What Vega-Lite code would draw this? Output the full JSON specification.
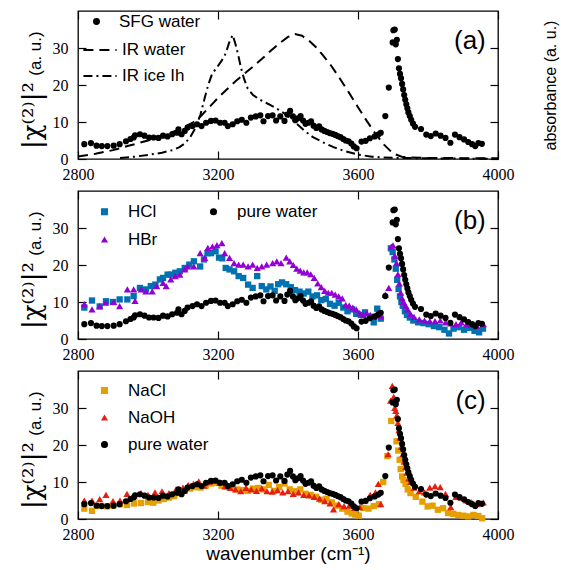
{
"$schema": "https://vega.github.io/schema/vega-lite/v6.json",
"background": "white",
"padding": {"left": 18, "top": 9, "right": 2, "bottom": 5},
"spacing": 32,
"bounds": "flush",
"resolve": {"scale": {"color": "independent", "shape": "independent", "strokeDash": "independent"}},
"config": {
  "view": {"stroke": "black", "strokeWidth": 1.3},
  "axis": {"grid": false, "domain": false, "tickColor": "black", "labelColor": "black", "titleColor": "black", "tickWidth": 1.2, "labelFont": "Liberation Serif", "labelFontSize": 16, "labelFlush": false, "labelOverlap": false},
  "legend": {"labelFont": "Liberation Sans", "labelFontSize": 17, "labelColor": "black", "title": null}
},
"datasets": {
"water": [{"w":2818,"v":4.0},{"w":2837,"v":4.3},{"w":2853,"v":3.6},{"w":2868,"v":3.5},{"w":2884,"v":3.5},{"w":2902,"v":3.6},{"w":2919,"v":4.0},{"w":2937,"v":4.8},{"w":2950,"v":5.4},{"w":2959,"v":5.8},{"w":2963,"v":6.4},{"w":2977,"v":6.7},{"w":2990,"v":6.3},{"w":3003,"v":5.8},{"w":3016,"v":5.8},{"w":3030,"v":5.7},{"w":3043,"v":6.3},{"w":3056,"v":6.1},{"w":3069,"v":6.7},{"w":3083,"v":7.1},{"w":3087,"v":8.0},{"w":3096,"v":6.7},{"w":3105,"v":7.6},{"w":3113,"v":8.5},{"w":3127,"v":8.9},{"w":3140,"v":9.4},{"w":3153,"v":8.9},{"w":3166,"v":9.8},{"w":3180,"v":10.3},{"w":3193,"v":10.4},{"w":3206,"v":9.8},{"w":3219,"v":9.8},{"w":3228,"v":8.9},{"w":3242,"v":9.4},{"w":3255,"v":10.2},{"w":3268,"v":10.6},{"w":3281,"v":9.8},{"w":3294,"v":11.2},{"w":3308,"v":11.5},{"w":3321,"v":11.8},{"w":3330,"v":10.2},{"w":3343,"v":11.6},{"w":3356,"v":11.8},{"w":3366,"v":10.4},{"w":3378,"v":11.5},{"w":3390,"v":10.3},{"w":3398,"v":12.0},{"w":3406,"v":13.0},{"w":3414,"v":11.5},{"w":3421,"v":10.5},{"w":3428,"v":11.0},{"w":3436,"v":11.6},{"w":3443,"v":10.4},{"w":3450,"v":9.5},{"w":3458,"v":9.8},{"w":3466,"v":10.2},{"w":3473,"v":9.0},{"w":3481,"v":8.4},{"w":3489,"v":8.8},{"w":3496,"v":8.0},{"w":3504,"v":7.6},{"w":3512,"v":7.3},{"w":3519,"v":7.0},{"w":3527,"v":6.8},{"w":3535,"v":6.5},{"w":3542,"v":6.2},{"w":3550,"v":5.9},{"w":3558,"v":5.4},{"w":3565,"v":5.0},{"w":3573,"v":4.8},{"w":3581,"v":4.2},{"w":3588,"v":3.4},{"w":3596,"v":2.9},{"w":3610,"v":4.7},{"w":3622,"v":4.9},{"w":3634,"v":5.6},{"w":3648,"v":6.1},{"w":3658,"v":6.6},{"w":3665,"v":7.1},{"w":3678,"v":11.6},{"w":3688,"v":19.3},{"w":3699,"v":31.5},{"w":3701,"v":34.8},{"w":3705,"v":35.0},{"w":3708,"v":31.0},{"w":3711,"v":32.2},{"w":3714,"v":27.0},{"w":3717,"v":24.5},{"w":3720,"v":23.0},{"w":3723,"v":21.8},{"w":3726,"v":20.3},{"w":3729,"v":18.8},{"w":3732,"v":17.3},{"w":3735,"v":16.0},{"w":3738,"v":14.8},{"w":3741,"v":13.7},{"w":3744,"v":12.6},{"w":3748,"v":11.6},{"w":3752,"v":10.6},{"w":3757,"v":9.6},{"w":3763,"v":8.7},{"w":3780,"v":8.1},{"w":3795,"v":6.6},{"w":3808,"v":6.2},{"w":3822,"v":6.9},{"w":3836,"v":6.3},{"w":3850,"v":5.7},{"w":3864,"v":4.4},{"w":3877,"v":6.6},{"w":3890,"v":5.9},{"w":3903,"v":5.3},{"w":3915,"v":4.6},{"w":3926,"v":4.0},{"w":3935,"v":3.5},{"w":3944,"v":4.3},{"w":3954,"v":4.1}],
"irwater": [{"w":2800,"v":0.7},{"w":2850,"v":1.4},{"w":2900,"v":2.4},{"w":2950,"v":3.7},{"w":3000,"v":5.0},{"w":3050,"v":6.6},{"w":3100,"v":8.4},{"w":3130,"v":10.0},{"w":3150,"v":11.5},{"w":3175,"v":14.0},{"w":3200,"v":16.5},{"w":3225,"v":18.8},{"w":3250,"v":21.0},{"w":3275,"v":23.0},{"w":3300,"v":25.0},{"w":3325,"v":27.0},{"w":3350,"v":29.2},{"w":3375,"v":31.2},{"w":3400,"v":33.0},{"w":3420,"v":33.8},{"w":3440,"v":33.3},{"w":3460,"v":32.0},{"w":3480,"v":30.2},{"w":3500,"v":28.0},{"w":3525,"v":25.0},{"w":3550,"v":21.5},{"w":3575,"v":17.8},{"w":3600,"v":14.0},{"w":3625,"v":10.3},{"w":3650,"v":6.8},{"w":3675,"v":3.8},{"w":3700,"v":1.5},{"w":3725,"v":0.6},{"w":3750,"v":0.4},{"w":3800,"v":0.3},{"w":3850,"v":0.3},{"w":3900,"v":0.2},{"w":3950,"v":0.2},{"w":4000,"v":0.2}],
"irice": [{"w":2920,"v":0.3},{"w":2960,"v":0.6},{"w":3000,"v":1.1},{"w":3040,"v":1.7},{"w":3070,"v":2.4},{"w":3090,"v":3.2},{"w":3105,"v":4.2},{"w":3120,"v":5.8},{"w":3135,"v":8.3},{"w":3150,"v":12.0},{"w":3162,"v":16.5},{"w":3172,"v":20.0},{"w":3183,"v":23.0},{"w":3195,"v":24.5},{"w":3210,"v":26.5},{"w":3222,"v":28.5},{"w":3232,"v":31.5},{"w":3242,"v":33.5},{"w":3250,"v":31.0},{"w":3258,"v":28.0},{"w":3266,"v":24.5},{"w":3275,"v":21.5},{"w":3285,"v":19.0},{"w":3300,"v":17.3},{"w":3320,"v":16.0},{"w":3345,"v":14.8},{"w":3370,"v":13.5},{"w":3395,"v":12.0},{"w":3420,"v":10.0},{"w":3445,"v":7.8},{"w":3470,"v":6.0},{"w":3500,"v":4.5},{"w":3530,"v":3.2},{"w":3560,"v":2.2},{"w":3600,"v":1.2},{"w":3640,"v":0.6},{"w":3700,"v":0.3},{"w":3800,"v":0.2},{"w":3900,"v":0.1},{"w":4000,"v":0.1}],
"hcl": [{"w":2818,"v":8.5},{"w":2840,"v":10.4},{"w":2862,"v":8.8},{"w":2880,"v":10.2},{"w":2900,"v":10.0},{"w":2919,"v":10.7},{"w":2941,"v":10.7},{"w":2959,"v":11.6},{"w":2977,"v":13.8},{"w":2994,"v":13.4},{"w":3008,"v":14.3},{"w":3021,"v":14.7},{"w":3034,"v":16.1},{"w":3043,"v":16.5},{"w":3056,"v":17.4},{"w":3065,"v":17.4},{"w":3078,"v":17.9},{"w":3091,"v":18.3},{"w":3105,"v":19.2},{"w":3118,"v":20.1},{"w":3131,"v":21.0},{"w":3149,"v":19.6},{"w":3160,"v":21.5},{"w":3170,"v":23.2},{"w":3180,"v":23.2},{"w":3193,"v":23.7},{"w":3203,"v":22.0},{"w":3212,"v":21.8},{"w":3222,"v":19.2},{"w":3233,"v":18.8},{"w":3246,"v":18.3},{"w":3259,"v":17.0},{"w":3272,"v":16.5},{"w":3286,"v":14.7},{"w":3299,"v":13.8},{"w":3312,"v":17.0},{"w":3325,"v":14.3},{"w":3338,"v":13.4},{"w":3350,"v":14.2},{"w":3362,"v":13.0},{"w":3372,"v":14.8},{"w":3383,"v":15.3},{"w":3395,"v":14.8},{"w":3408,"v":14.0},{"w":3420,"v":13.2},{"w":3433,"v":12.8},{"w":3445,"v":12.3},{"w":3458,"v":12.8},{"w":3470,"v":11.5},{"w":3483,"v":11.8},{"w":3495,"v":10.5},{"w":3508,"v":10.8},{"w":3520,"v":9.5},{"w":3533,"v":9.0},{"w":3545,"v":9.8},{"w":3558,"v":8.5},{"w":3570,"v":7.5},{"w":3583,"v":8.0},{"w":3595,"v":6.8},{"w":3608,"v":6.5},{"w":3620,"v":7.2},{"w":3633,"v":6.0},{"w":3645,"v":4.5},{"w":3655,"v":8.2},{"w":3665,"v":5.5},{"w":3694,"v":24.5},{"w":3699,"v":23.5},{"w":3704,"v":21.5},{"w":3708,"v":19.0},{"w":3712,"v":16.0},{"w":3716,"v":13.5},{"w":3720,"v":11.5},{"w":3724,"v":10.0},{"w":3728,"v":9.0},{"w":3734,"v":7.5},{"w":3740,"v":6.5},{"w":3748,"v":5.8},{"w":3758,"v":5.0},{"w":3772,"v":4.5},{"w":3787,"v":4.3},{"w":3802,"v":4.0},{"w":3817,"v":3.5},{"w":3832,"v":3.2},{"w":3847,"v":2.5},{"w":3860,"v":1.5},{"w":3873,"v":2.8},{"w":3888,"v":3.2},{"w":3903,"v":2.5},{"w":3918,"v":3.0},{"w":3933,"v":2.2},{"w":3946,"v":1.8},{"w":3957,"v":2.8}],
"hbr": [{"w":2818,"v":9.4},{"w":2840,"v":8.0},{"w":2862,"v":8.9},{"w":2879,"v":9.8},{"w":2902,"v":10.0},{"w":2919,"v":8.9},{"w":2941,"v":13.4},{"w":2959,"v":13.4},{"w":2963,"v":10.3},{"w":2981,"v":13.4},{"w":2994,"v":12.9},{"w":3012,"v":12.9},{"w":3025,"v":14.3},{"w":3043,"v":15.2},{"w":3052,"v":14.3},{"w":3065,"v":16.1},{"w":3078,"v":17.0},{"w":3091,"v":17.4},{"w":3105,"v":18.8},{"w":3113,"v":19.6},{"w":3131,"v":19.6},{"w":3149,"v":23.2},{"w":3162,"v":21.9},{"w":3171,"v":24.6},{"w":3184,"v":25.0},{"w":3197,"v":25.4},{"w":3211,"v":25.9},{"w":3219,"v":23.2},{"w":3233,"v":21.9},{"w":3246,"v":20.5},{"w":3259,"v":20.1},{"w":3272,"v":20.1},{"w":3286,"v":19.6},{"w":3299,"v":20.1},{"w":3312,"v":19.2},{"w":3325,"v":19.6},{"w":3339,"v":20.1},{"w":3356,"v":20.5},{"w":3368,"v":21.0},{"w":3380,"v":20.5},{"w":3395,"v":22.0},{"w":3405,"v":21.0},{"w":3415,"v":20.0},{"w":3425,"v":19.0},{"w":3435,"v":18.5},{"w":3445,"v":18.0},{"w":3455,"v":18.0},{"w":3465,"v":17.5},{"w":3475,"v":16.5},{"w":3485,"v":15.0},{"w":3495,"v":14.0},{"w":3505,"v":13.0},{"w":3515,"v":12.5},{"w":3525,"v":12.5},{"w":3535,"v":12.0},{"w":3545,"v":11.5},{"w":3555,"v":11.0},{"w":3565,"v":9.2},{"w":3575,"v":9.0},{"w":3585,"v":8.5},{"w":3595,"v":8.0},{"w":3605,"v":7.0},{"w":3615,"v":6.5},{"w":3625,"v":7.0},{"w":3635,"v":6.5},{"w":3645,"v":6.0},{"w":3655,"v":7.0},{"w":3665,"v":6.2},{"w":3678,"v":12.0},{"w":3688,"v":13.8},{"w":3695,"v":25.0},{"w":3700,"v":25.3},{"w":3705,"v":22.5},{"w":3710,"v":20.5},{"w":3714,"v":17.5},{"w":3718,"v":15.0},{"w":3722,"v":12.5},{"w":3726,"v":11.0},{"w":3730,"v":10.0},{"w":3736,"v":9.0},{"w":3742,"v":8.0},{"w":3750,"v":6.8},{"w":3760,"v":6.0},{"w":3775,"v":5.3},{"w":3790,"v":5.0},{"w":3805,"v":4.8},{"w":3820,"v":4.8},{"w":3835,"v":5.0},{"w":3850,"v":4.5},{"w":3865,"v":4.2},{"w":3880,"v":4.0},{"w":3895,"v":4.5},{"w":3910,"v":4.0},{"w":3925,"v":3.8},{"w":3940,"v":3.5},{"w":3958,"v":4.0}],
"nacl": [{"w":2818,"v":2.8},{"w":2840,"v":2.2},{"w":2862,"v":3.5},{"w":2882,"v":3.4},{"w":2900,"v":3.6},{"w":2920,"v":4.0},{"w":2940,"v":3.8},{"w":2960,"v":4.2},{"w":2980,"v":4.3},{"w":3000,"v":4.6},{"w":3015,"v":4.4},{"w":3030,"v":5.0},{"w":3045,"v":5.4},{"w":3060,"v":5.8},{"w":3075,"v":6.2},{"w":3090,"v":7.0},{"w":3105,"v":7.6},{"w":3120,"v":8.2},{"w":3135,"v":8.6},{"w":3150,"v":8.5},{"w":3165,"v":9.0},{"w":3180,"v":9.6},{"w":3195,"v":9.8},{"w":3210,"v":9.0},{"w":3225,"v":8.8},{"w":3240,"v":8.5},{"w":3255,"v":8.0},{"w":3270,"v":7.8},{"w":3285,"v":7.6},{"w":3300,"v":8.2},{"w":3315,"v":8.4},{"w":3330,"v":8.0},{"w":3345,"v":9.2},{"w":3360,"v":7.6},{"w":3375,"v":8.6},{"w":3390,"v":9.6},{"w":3405,"v":8.0},{"w":3420,"v":7.5},{"w":3435,"v":8.0},{"w":3450,"v":6.8},{"w":3465,"v":6.5},{"w":3480,"v":6.0},{"w":3495,"v":5.2},{"w":3510,"v":5.5},{"w":3525,"v":4.5},{"w":3540,"v":3.6},{"w":3555,"v":2.8},{"w":3570,"v":2.0},{"w":3582,"v":1.5},{"w":3592,"v":1.2},{"w":3602,"v":0.9},{"w":3615,"v":3.0},{"w":3630,"v":2.8},{"w":3645,"v":3.5},{"w":3660,"v":4.0},{"w":3672,"v":10.0},{"w":3684,"v":17.0},{"w":3695,"v":26.5},{"w":3710,"v":21.0},{"w":3715,"v":18.5},{"w":3719,"v":16.0},{"w":3722,"v":13.5},{"w":3726,"v":11.5},{"w":3730,"v":10.5},{"w":3736,"v":9.5},{"w":3742,"v":8.0},{"w":3750,"v":7.0},{"w":3765,"v":6.0},{"w":3784,"v":4.7},{"w":3799,"v":3.4},{"w":3813,"v":3.6},{"w":3828,"v":2.5},{"w":3843,"v":2.9},{"w":3857,"v":1.6},{"w":3872,"v":1.4},{"w":3886,"v":1.1},{"w":3901,"v":0.9},{"w":3915,"v":0.7},{"w":3930,"v":1.1},{"w":3944,"v":0.8},{"w":3955,"v":0.2}],
"naoh": [{"w":2818,"v":5.0},{"w":2840,"v":5.0},{"w":2862,"v":5.4},{"w":2880,"v":6.5},{"w":2900,"v":4.8},{"w":2920,"v":5.0},{"w":2940,"v":6.8},{"w":2960,"v":6.2},{"w":2980,"v":7.0},{"w":3000,"v":6.5},{"w":3020,"v":7.2},{"w":3040,"v":7.5},{"w":3060,"v":7.0},{"w":3080,"v":8.0},{"w":3100,"v":8.5},{"w":3115,"v":9.2},{"w":3130,"v":9.5},{"w":3145,"v":10.2},{"w":3160,"v":9.0},{"w":3175,"v":10.0},{"w":3190,"v":10.3},{"w":3205,"v":9.8},{"w":3220,"v":8.8},{"w":3235,"v":8.4},{"w":3250,"v":8.0},{"w":3265,"v":7.5},{"w":3280,"v":8.4},{"w":3295,"v":8.0},{"w":3310,"v":7.6},{"w":3325,"v":8.3},{"w":3340,"v":7.5},{"w":3355,"v":7.4},{"w":3370,"v":7.8},{"w":3385,"v":7.2},{"w":3400,"v":7.5},{"w":3415,"v":6.8},{"w":3430,"v":7.2},{"w":3445,"v":6.5},{"w":3460,"v":6.4},{"w":3475,"v":6.0},{"w":3490,"v":5.5},{"w":3505,"v":4.8},{"w":3520,"v":4.2},{"w":3530,"v":2.6},{"w":3545,"v":4.0},{"w":3560,"v":3.5},{"w":3575,"v":3.6},{"w":3590,"v":3.0},{"w":3605,"v":3.2},{"w":3620,"v":5.0},{"w":3635,"v":6.5},{"w":3650,"v":7.2},{"w":3658,"v":9.5},{"w":3665,"v":4.0},{"w":3686,"v":17.5},{"w":3693,"v":32.0},{"w":3698,"v":36.0},{"w":3702,"v":33.0},{"w":3705,"v":30.0},{"w":3708,"v":29.2},{"w":3711,"v":28.0},{"w":3714,"v":26.0},{"w":3717,"v":24.0},{"w":3720,"v":22.0},{"w":3724,"v":19.5},{"w":3728,"v":17.5},{"w":3732,"v":15.5},{"w":3736,"v":14.0},{"w":3740,"v":12.5},{"w":3745,"v":11.0},{"w":3750,"v":10.0},{"w":3760,"v":8.5},{"w":3775,"v":7.5},{"w":3790,"v":7.2},{"w":3805,"v":8.5},{"w":3820,"v":8.9},{"w":3835,"v":8.6},{"w":3850,"v":6.8},{"w":3865,"v":3.2},{"w":3880,"v":6.0},{"w":3895,"v":5.8},{"w":3910,"v":5.0},{"w":3925,"v":4.5},{"w":3940,"v":4.0},{"w":3958,"v":4.5}]
},
"vconcat": [
{
  "width": 420, "height": 148,
  "layer": [
    {"data": {"name": "irwater"}, "mark": {"type": "line", "color": "black", "strokeWidth": 2},
     "encoding": {
      "x": {"field": "w", "type": "quantitative", "scale": {"domain": [2800, 4000], "nice": false, "zero": false}, "axis": null},
      "y": {"field": "v", "type": "quantitative", "scale": {"domain": [0, 40], "nice": false}, "axis": null},
      "strokeDash": {"datum": "IR water", "scale": {"domain": ["IR water", "IR ice Ih"], "range": [[10, 6], [9, 4, 2, 4]]},
        "legend": {"orient": "none", "legendX": 4, "legendY": 21, "symbolType": "stroke", "symbolSize": 1100, "symbolStrokeWidth": 2, "symbolStrokeColor": "black", "labelOffset": 4, "rowPadding": -8}}
     }},
    {"data": {"name": "irice"}, "mark": {"type": "line", "color": "black", "strokeWidth": 2},
     "encoding": {
      "x": {"field": "w", "type": "quantitative", "axis": null},
      "y": {"field": "v", "type": "quantitative", "axis": null},
      "strokeDash": {"datum": "IR ice Ih"}
     }},
    {"data": {"name": "water"}, "mark": {"type": "point", "filled": true, "size": 38, "opacity": 1, "shape": "circle"},
     "encoding": {
      "x": {"field": "w", "type": "quantitative", "axis": {"orient": "bottom", "values": [2800, 3200, 3600, 4000], "format": "d", "title": null, "tickSize": -8, "labelPadding": 15}},
      "y": {"field": "v", "type": "quantitative", "axis": {"orient": "left", "values": [0, 10, 20, 30], "tickSize": -8, "labelPadding": 18, "title": "|χ⁽²⁾|²", "titleFont": "DejaVu Serif", "titleFontSize": 26, "titleFontWeight": "normal", "titleAngle": 270, "titleAlign": "center", "titleBaseline": "alphabetic", "titleX": -38, "titleY": 104}},
      "color": {"datum": "SFG water", "scale": {"domain": ["SFG water"], "range": ["black"]},
        "legend": {"orient": "none", "legendX": 10, "legendY": 2, "symbolType": "circle", "symbolSize": 48, "labelOffset": 14}}
     }},
    {"data": {"values": [{}]}, "mark": {"type": "text", "font": "Liberation Sans", "fontSize": 26, "align": "right", "baseline": "middle", "color": "black"},
     "encoding": {
      "x": {"datum": 3965, "type": "quantitative", "axis": {"orient": "top", "values": [2800, 3200, 3600, 4000], "labels": false, "tickSize": -8, "title": null}},
      "y": {"datum": 32, "type": "quantitative", "axis": {"orient": "right", "values": [0, 10, 20, 30], "labels": false, "tickSize": -8, "title": "absorbance (a. u.)", "titleFont": "Liberation Sans", "titleFontSize": 16, "titleFontWeight": "normal", "titleAngle": 270, "titleAlign": "center", "titleBaseline": "alphabetic", "titleX": 57}},
      "text": {"value": "(a)"}
     }},
    {"data": {"values": [{}]}, "mark": {"type": "text", "fontSize": 1},
     "encoding": {
      "x": {"datum": 2800, "type": "quantitative", "axis": null},
      "y": {"datum": 0, "type": "quantitative", "axis": {"orient": "left", "labels": false, "ticks": false, "title": "(a. u.)", "titleFont": "Liberation Sans", "titleFontSize": 17, "titleFontWeight": "normal", "titleAngle": 270, "titleAlign": "center", "titleBaseline": "alphabetic", "titleX": -38, "titleY": 42}},
      "text": {"value": ""}
     }}
  ],
  "resolve": {"axis": {"x": "independent", "y": "independent"}}
},
{
  "width": 420, "height": 148,
  "layer": [
    {"data": {"name": "hcl"}, "mark": {"type": "point", "filled": true, "size": 40, "opacity": 1},
     "encoding": {
      "x": {"field": "w", "type": "quantitative", "scale": {"domain": [2800, 4000], "nice": false, "zero": false}, "axis": null},
      "y": {"field": "v", "type": "quantitative", "scale": {"domain": [0, 40], "nice": false}, "axis": null},
      "color": {"datum": "HCl", "scale": {"domain": ["HCl", "HBr", "pure water"], "range": ["#0072B2", "#9400D3", "black"]},
        "legend": {"orient": "none", "legendX": 18, "legendY": 12, "columns": 2, "columnPadding": 47, "symbolSize": 50, "labelOffset": 15, "rowPadding": 10}},
      "shape": {"datum": "HCl", "scale": {"domain": ["HCl", "HBr", "pure water"], "range": ["square", "triangle-up", "circle"]},
        "legend": {"orient": "none", "legendX": 18, "legendY": 12, "columns": 2, "columnPadding": 47, "symbolSize": 50, "labelOffset": 15, "rowPadding": 10}}
     }},
    {"data": {"name": "hbr"}, "mark": {"type": "point", "filled": true, "size": 52, "opacity": 1},
     "encoding": {
      "x": {"field": "w", "type": "quantitative", "axis": null},
      "y": {"field": "v", "type": "quantitative", "axis": null},
      "color": {"datum": "HBr"},
      "shape": {"datum": "HBr"}
     }},
    {"data": {"name": "water"}, "mark": {"type": "point", "filled": true, "size": 38, "opacity": 1},
     "encoding": {
      "x": {"field": "w", "type": "quantitative", "axis": {"orient": "bottom", "values": [2800, 3200, 3600, 4000], "format": "d", "title": null, "tickSize": -8, "labelPadding": 15}},
      "y": {"field": "v", "type": "quantitative", "axis": {"orient": "left", "values": [0, 10, 20, 30], "tickSize": -8, "labelPadding": 18, "title": "|χ⁽²⁾|²", "titleFont": "DejaVu Serif", "titleFontSize": 26, "titleFontWeight": "normal", "titleAngle": 270, "titleAlign": "center", "titleBaseline": "alphabetic", "titleX": -38, "titleY": 104}},
      "color": {"datum": "pure water"},
      "shape": {"datum": "pure water"}
     }},
    {"data": {"values": [{}]}, "mark": {"type": "text", "font": "Liberation Sans", "fontSize": 26, "align": "right", "baseline": "middle", "color": "black"},
     "encoding": {
      "x": {"datum": 3965, "type": "quantitative", "axis": {"orient": "top", "values": [2800, 3200, 3600, 4000], "labels": false, "tickSize": -8, "title": null}},
      "y": {"datum": 32, "type": "quantitative", "axis": {"orient": "right", "values": [0, 10, 20, 30], "labels": false, "tickSize": -8, "title": null}},
      "text": {"value": "(b)"}
     }},
    {"data": {"values": [{}]}, "mark": {"type": "text", "fontSize": 1},
     "encoding": {
      "x": {"datum": 2800, "type": "quantitative", "axis": null},
      "y": {"datum": 0, "type": "quantitative", "axis": {"orient": "left", "labels": false, "ticks": false, "title": "(a. u.)", "titleFont": "Liberation Sans", "titleFontSize": 17, "titleFontWeight": "normal", "titleAngle": 270, "titleAlign": "center", "titleBaseline": "alphabetic", "titleX": -38, "titleY": 42}},
      "text": {"value": ""}
     }}
  ],
  "resolve": {"axis": {"x": "independent", "y": "independent"}}
},
{
  "width": 420, "height": 148,
  "layer": [
    {"data": {"name": "nacl"}, "mark": {"type": "point", "filled": true, "size": 40, "opacity": 1},
     "encoding": {
      "x": {"field": "w", "type": "quantitative", "scale": {"domain": [2800, 4000], "nice": false, "zero": false}, "axis": null},
      "y": {"field": "v", "type": "quantitative", "scale": {"domain": [0, 40], "nice": false}, "axis": null},
      "color": {"datum": "NaCl", "scale": {"domain": ["NaCl", "NaOH", "pure water"], "range": ["#E69F00", "#E51E10", "black"]},
        "legend": {"orient": "none", "legendX": 18, "legendY": 11, "symbolSize": 50, "labelOffset": 15, "rowPadding": 9}},
      "shape": {"datum": "NaCl", "scale": {"domain": ["NaCl", "NaOH", "pure water"], "range": ["square", "triangle-up", "circle"]},
        "legend": {"orient": "none", "legendX": 18, "legendY": 11, "symbolSize": 50, "labelOffset": 15, "rowPadding": 9}}
     }},
    {"data": {"name": "naoh"}, "mark": {"type": "point", "filled": true, "size": 52, "opacity": 1},
     "encoding": {
      "x": {"field": "w", "type": "quantitative", "axis": null},
      "y": {"field": "v", "type": "quantitative", "axis": null},
      "color": {"datum": "NaOH"},
      "shape": {"datum": "NaOH"}
     }},
    {"data": {"name": "water"}, "mark": {"type": "point", "filled": true, "size": 38, "opacity": 1},
     "encoding": {
      "x": {"field": "w", "type": "quantitative", "axis": {"orient": "bottom", "values": [2800, 3200, 3600, 4000], "format": "d", "title": "wavenumber (cm⁻¹)", "titleFont": "Liberation Sans", "titleFontSize": 19, "titleFontWeight": "normal", "titlePadding": 2, "tickSize": -8, "labelPadding": 15}},
      "y": {"field": "v", "type": "quantitative", "axis": {"orient": "left", "values": [0, 10, 20, 30], "tickSize": -8, "labelPadding": 18, "title": "|χ⁽²⁾|²", "titleFont": "DejaVu Serif", "titleFontSize": 26, "titleFontWeight": "normal", "titleAngle": 270, "titleAlign": "center", "titleBaseline": "alphabetic", "titleX": -38, "titleY": 104}},
      "color": {"datum": "pure water"},
      "shape": {"datum": "pure water"}
     }},
    {"data": {"values": [{}]}, "mark": {"type": "text", "font": "Liberation Sans", "fontSize": 26, "align": "right", "baseline": "middle", "color": "black"},
     "encoding": {
      "x": {"datum": 3965, "type": "quantitative", "axis": {"orient": "top", "values": [2800, 3200, 3600, 4000], "labels": false, "tickSize": -8, "title": null}},
      "y": {"datum": 32, "type": "quantitative", "axis": {"orient": "right", "values": [0, 10, 20, 30], "labels": false, "tickSize": -8, "title": null}},
      "text": {"value": "(c)"}
     }},
    {"data": {"values": [{}]}, "mark": {"type": "text", "fontSize": 1},
     "encoding": {
      "x": {"datum": 2800, "type": "quantitative", "axis": null},
      "y": {"datum": 0, "type": "quantitative", "axis": {"orient": "left", "labels": false, "ticks": false, "title": "(a. u.)", "titleFont": "Liberation Sans", "titleFontSize": 17, "titleFontWeight": "normal", "titleAngle": 270, "titleAlign": "center", "titleBaseline": "alphabetic", "titleX": -38, "titleY": 42}},
      "text": {"value": ""}
     }}
  ],
  "resolve": {"axis": {"x": "independent", "y": "independent"}}
}
]
}
